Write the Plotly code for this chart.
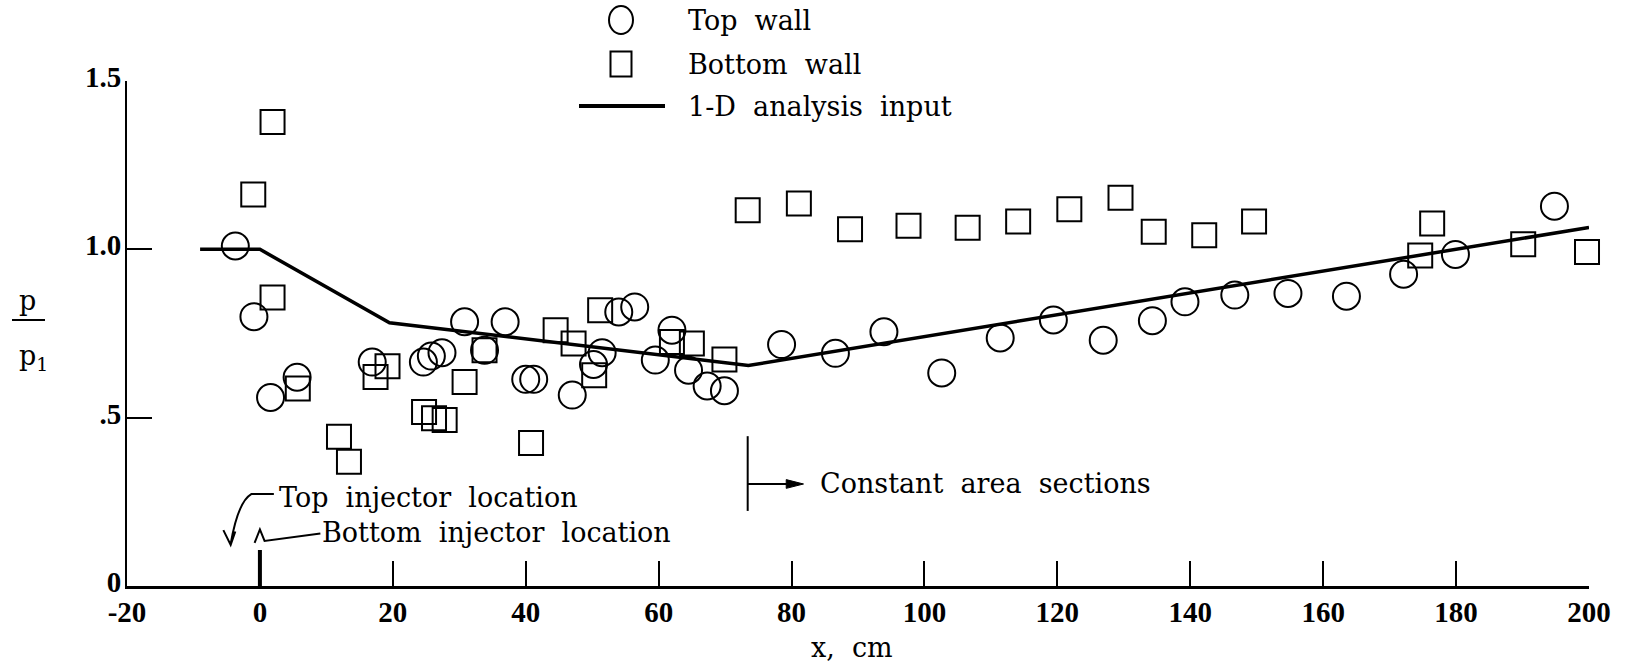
import plotly.graph_objects as go

# ---------------- data ----------------
top_x = [-3.7, -0.9, 1.6, 5.6, 16.9, 24.6, 25.8, 27.4, 30.8, 33.8, 36.9, 40.0, 41.2,
         47.0, 50.2, 51.5, 54.0, 56.4, 59.5, 62.0, 64.5, 67.3, 69.9, 78.5, 86.6,
         93.9, 102.6, 111.4, 119.4, 126.9, 134.3, 139.2, 146.7, 154.7, 163.5,
         172.1, 179.9, 194.8]
top_y = [1.01, 0.80, 0.56, 0.62, 0.665, 0.665, 0.683, 0.693, 0.785, 0.70, 0.785,
         0.614, 0.614, 0.567, 0.658, 0.693, 0.814, 0.829, 0.671, 0.760, 0.641,
         0.594, 0.580, 0.717, 0.691, 0.755, 0.633, 0.737, 0.790, 0.730, 0.788,
         0.844, 0.864, 0.869, 0.861, 0.926, 0.985, 1.128]

bot_x = [-1.0, 1.9, 1.9, 5.7, 11.9, 13.4, 17.4, 19.2, 24.7, 26.2, 27.8, 30.8,
         33.8, 40.8, 44.5, 47.2, 50.3, 51.2, 62.0, 65.0, 69.9, 73.4, 81.1, 88.8,
         97.6, 106.5, 114.1, 121.8, 129.5, 134.5, 142.1, 149.6, 174.6, 176.4,
         190.1, 199.7]
bot_y = [1.163, 1.378, 0.857, 0.587, 0.443, 0.369, 0.621, 0.653, 0.517, 0.498,
         0.493, 0.606, 0.700, 0.425, 0.760, 0.720, 0.626, 0.819, 0.725, 0.720,
         0.673, 1.116, 1.136, 1.060, 1.070, 1.064, 1.083, 1.119, 1.153, 1.052,
         1.042, 1.083, 0.982, 1.077, 1.015, 0.992]

line_x = [-9, 0, 19.5, 73.5, 200]
line_y = [1.0, 1.0, 0.782, 0.655, 1.065]

xtick_vals = [-20, 0, 20, 40, 60, 80, 100, 120, 140, 160, 180, 200]
xtick_text = ["-20", "0", "20", "40", "60", "80", "100", "120", "140", "160", "180", "200"]
ytick_vals = [0, 0.5, 1.0, 1.5]
ytick_text = ["0", ".5", "1.0", "1.5"]

# ---------------- layout geometry (pixels) ----------------
W, H = 1629, 665
L, R, T, B = 127, 40, 81, 79
PW, PH = W - L - R, H - T - B


def xp(px):
    return (px - L) / PW


def yp(py):
    return (H - B - py) / PH


TXT = dict(family="DejaVu Serif", size=27, color="black")
TICK = dict(family="Liberation Serif", size=29, color="black", weight="bold")

fig = go.Figure()
fig.add_trace(go.Scatter(x=line_x, y=line_y, mode="lines",
                         line=dict(color="black", width=3.5),
                         cliponaxis=False, showlegend=False))
fig.add_trace(go.Scatter(x=top_x, y=top_y, mode="markers",
                         marker=dict(symbol="circle-open", size=27, color="black",
                                     line=dict(width=2, color="black")),
                         cliponaxis=False, showlegend=False))
fig.add_trace(go.Scatter(x=bot_x, y=bot_y, mode="markers",
                         marker=dict(symbol="square-open", size=24, color="black",
                                     line=dict(width=2, color="black")),
                         cliponaxis=False, showlegend=False))

shapes = []
anns = []

# legend (drawn manually)
shapes.append(dict(type="circle", xref="paper", yref="paper", xsizemode="pixel",
                   ysizemode="pixel", xanchor=xp(621), yanchor=yp(20),
                   x0=-12, x1=12, y0=-14, y1=14, line=dict(color="black", width=2)))
shapes.append(dict(type="rect", xref="paper", yref="paper", xsizemode="pixel",
                   ysizemode="pixel", xanchor=xp(621), yanchor=yp(64),
                   x0=-10.5, x1=10.5, y0=-12.5, y1=12.5, line=dict(color="black", width=2)))
shapes.append(dict(type="line", xref="paper", yref="paper", x0=xp(579), x1=xp(665),
                   y0=yp(106), y1=yp(106), line=dict(color="black", width=4)))
for txt, py in [("Top  wall", 21), ("Bottom  wall", 65), ("1-D  analysis  input", 106)]:
    anns.append(dict(text=txt, xref="paper", yref="paper", x=xp(686), y=yp(py),
                     xanchor="left", yanchor="middle", showarrow=False, font=TXT))

# y-axis title p / p1
anns.append(dict(text="p", xref="paper", yref="paper", x=xp(27), y=yp(300),
                 xanchor="center", yanchor="middle", showarrow=False, font=TXT))
shapes.append(dict(type="line", xref="paper", yref="paper", x0=xp(12), x1=xp(45),
                   y0=yp(320), y1=yp(320), line=dict(color="black", width=2)))
anns.append(dict(text="p<sub>1</sub>", xref="paper", yref="paper", x=xp(33), y=yp(357),
                 xanchor="center", yanchor="middle", showarrow=False, font=TXT))

# x-axis title
anns.append(dict(text="x,  cm", xref="paper", yref="paper", x=xp(852), y=yp(647),
                 xanchor="center", yanchor="middle", showarrow=False, font=TXT))

# constant area sections marker
shapes.append(dict(type="line", xref="x", yref="y", x0=73.4, x1=73.4, y0=0.223, y1=0.445,
                   line=dict(color="black", width=2)))
shapes.append(dict(type="line", xref="x", yref="y", x0=73.4, x1=80.0, y0=0.303, y1=0.303,
                   line=dict(color="black", width=2)))
shapes.append(dict(type="path", xref="x", yref="y",
                   path="M 79.2,0.316 L 81.8,0.303 L 79.2,0.290 Z",
                   fillcolor="black", line=dict(color="black", width=1)))
anns.append(dict(text="Constant  area  sections", x=84.0, y=0.303, xref="x", yref="y",
                 xanchor="left", yanchor="middle", showarrow=False, font=TXT))

# injector location notes
shapes.append(dict(type="path", xref="x", yref="y",
                   path="M 2.1,0.273 L -1.3,0.273 Q -3.3,0.25 -4.4,0.125 "
                        "M -5.5,0.166 L -4.4,0.122 L -3.7,0.162",
                   line=dict(color="black", width=2)))
anns.append(dict(text="Top  injector  location", x=2.6, y=0.263, xref="x", yref="y",
                 xanchor="left", yanchor="middle", showarrow=False, font=TXT))
shapes.append(dict(type="path", xref="x", yref="y",
                   path="M -0.8,0.128 L 0,0.168 L 0.7,0.134 L 9.1,0.156",
                   line=dict(color="black", width=2)))
anns.append(dict(text="Bottom  injector  location", x=9.1, y=0.158, xref="x", yref="y",
                 xanchor="left", yanchor="middle", showarrow=False, font=TXT))
# bold tick at x = 0
shapes.append(dict(type="line", xref="x", yref="y", x0=0, x1=0, y0=0, y1=0.107,
                   line=dict(color="black", width=4)))

fig.update_layout(
    width=W, height=H,
    margin=dict(l=L, r=R, t=T, b=B, pad=0),
    paper_bgcolor="white", plot_bgcolor="white",
    showlegend=False,
    shapes=shapes, annotations=anns,
    xaxis=dict(range=[-20, 200], tickmode="array", tickvals=xtick_vals,
               ticktext=xtick_text, ticks="inside", ticklen=25, tickwidth=2,
               tickcolor="black", showline=True, linecolor="black", linewidth=3,
               showgrid=False, zeroline=False, tickfont=TICK, ticklabelstandoff=-2),
    yaxis=dict(range=[0, 1.5], tickmode="array", tickvals=ytick_vals,
               ticktext=ytick_text, ticks="inside", ticklen=25, tickwidth=2,
               tickcolor="black", showline=True, linecolor="black", linewidth=2,
               showgrid=False, zeroline=False, tickfont=TICK, ticklabelstandoff=-2,
               ticklabelshift=-4),
)

fig.write_html("out.html")
